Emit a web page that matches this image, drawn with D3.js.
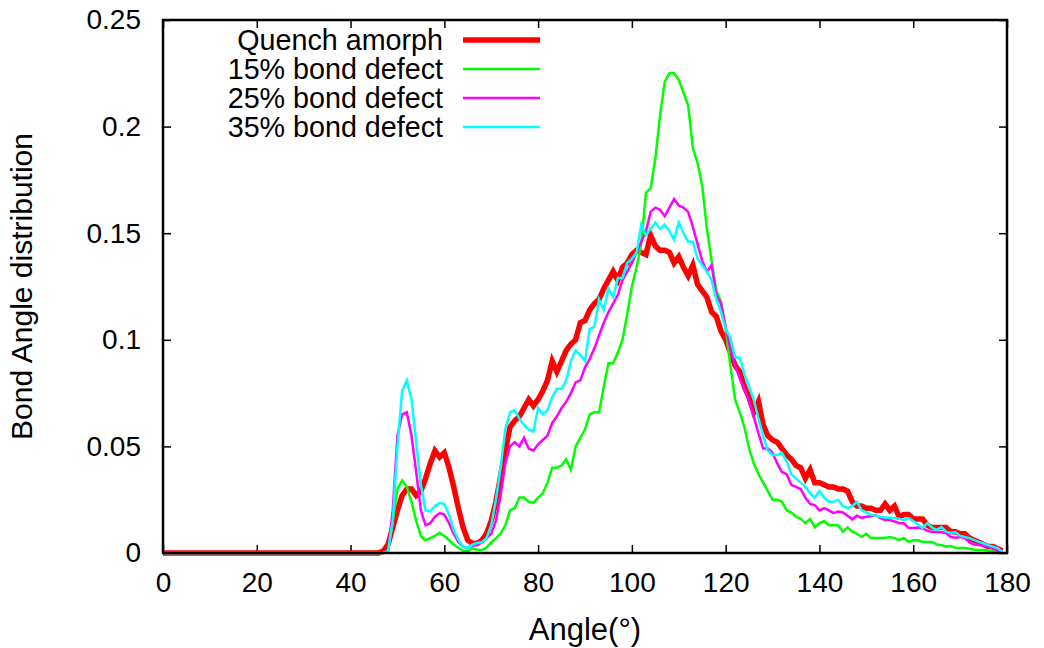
<!DOCTYPE html>
<html>
<head>
<meta charset="utf-8">
<script src="https://cdn.jsdelivr.net/npm/d3@7"></script>
<style>
  html, body { margin: 0; padding: 0; background: #fff; }
  svg { display: block; }
  text { font-family: "Liberation Sans", Arial, sans-serif; fill: #000; }
</style>
</head>
<body>
<svg id="chart" width="1044" height="648"></svg>
<script>
// ---- data (angle bins 0..179 degrees) ----
const angles = d3.range(0, 180);

const quenchAmorph = [
  0,0,0,0,0,0,0,0,0,0,
  0,0,0,0,0,0,0,0,0,0,
  0,0,0,0,0,0,0,0,0,0,
  0,0,0,0,0,0,0,0,0,0,
  0,0,0,0,0,0,0,0.001,0.004,0.012,
  0.020,0.027,0.030,0.030,0.027,0.029,0.035,0.042,0.048,0.045,
  0.047,0.040,0.031,0.021,0.012,0.006,0.0045,0.0045,0.006,0.009,
  0.015,0.024,0.036,0.048,0.059,0.062,0.064,0.068,0.072,0.069,
  0.072,0.076,0.081,0.090,0.085,0.090,0.095,0.098,0.100,0.108,
  0.109,0.114,0.117,0.119,0.124,0.128,0.132,0.128,0.134,0.136,
  0.140,0.142,0.141,0.140,0.149,0.144,0.142,0.142,0.141,0.136,
  0.139,0.134,0.130,0.135,0.126,0.123,0.120,0.113,0.111,0.104,
  0.100,0.094,0.088,0.085,0.078,0.073,0.066,0.071,0.060,0.055,
  0.053,0.052,0.049,0.046,0.044,0.041,0.040,0.035,0.039,0.033,
  0.033,0.032,0.031,0.031,0.030,0.030,0.029,0.024,0.022,0.022,
  0.021,0.021,0.020,0.020,0.023,0.020,0.022,0.017,0.018,0.018,
  0.016,0.016,0.016,0.013,0.012,0.012,0.012,0.012,0.010,0.010,
  0.009,0.009,0.007,0.006,0.005,0.004,0.003,0.003,0.002,0.001
];

const defect15 = [
  0,0,0,0,0,0,0,0,0,0,
  0,0,0,0,0,0,0,0,0,0,
  0,0,0,0,0,0,0,0,0,0,
  0,0,0,0,0,0,0,0,0,0,
  0,0,0,0,0,0,0,0,0.001,0.015,
  0.030,0.034,0.031,0.024,0.015,0.008,0.006,0.007,0.008,0.0095,
  0.008,0.006,0.004,0.0025,0.001,0.0008,0.0022,0.0015,0.0014,0.0025,
  0.005,0.007,0.009,0.013,0.020,0.021,0.026,0.026,0.024,0.0235,
  0.026,0.028,0.033,0.040,0.040,0.041,0.044,0.039,0.050,0.054,
  0.058,0.065,0.066,0.066,0.078,0.089,0.089,0.094,0.100,0.112,
  0.125,0.134,0.145,0.169,0.171,0.185,0.205,0.221,0.225,0.225,
  0.222,0.216,0.210,0.190,0.183,0.172,0.152,0.137,0.123,0.118,
  0.105,0.088,0.072,0.066,0.059,0.049,0.042,0.037,0.033,0.029,
  0.025,0.025,0.024,0.020,0.019,0.017,0.016,0.014,0.016,0.012,
  0.014,0.015,0.013,0.013,0.013,0.010,0.012,0.010,0.009,0.0075,
  0.009,0.007,0.007,0.007,0.007,0.0075,0.007,0.006,0.007,0.0052,
  0.006,0.006,0.0052,0.0052,0.0052,0.004,0.0037,0.003,0.0033,0.0025,
  0.0023,0.0023,0.002,0.0015,0.0014,0.0014,0.0012,0.0008,0.0005,0.0003
];

const defect25 = [
  0,0,0,0,0,0,0,0,0,0,
  0,0,0,0,0,0,0,0,0,0,
  0,0,0,0,0,0,0,0,0,0,
  0,0,0,0,0,0,0,0,0,0,
  0,0,0,0,0,0,0,0,0.001,0.020,
  0.055,0.065,0.066,0.055,0.038,0.020,0.013,0.014,0.017,0.0187,
  0.018,0.014,0.009,0.005,0.003,0.0025,0.0035,0.0037,0.005,0.007,
  0.009,0.015,0.027,0.042,0.050,0.052,0.050,0.054,0.049,0.048,
  0.051,0.053,0.055,0.061,0.064,0.068,0.071,0.075,0.080,0.081,
  0.087,0.091,0.096,0.102,0.108,0.113,0.117,0.121,0.128,0.132,
  0.136,0.141,0.146,0.151,0.160,0.162,0.161,0.158,0.162,0.166,
  0.163,0.162,0.160,0.153,0.145,0.137,0.132,0.135,0.121,0.117,
  0.106,0.096,0.088,0.082,0.077,0.071,0.064,0.056,0.049,0.049,
  0.047,0.042,0.038,0.037,0.032,0.031,0.030,0.026,0.023,0.0225,
  0.020,0.021,0.020,0.0187,0.0195,0.019,0.0175,0.0158,0.0175,0.0165,
  0.017,0.0172,0.0178,0.0164,0.0155,0.0155,0.0148,0.014,0.014,0.0118,
  0.0117,0.012,0.0115,0.0105,0.0098,0.0098,0.0097,0.0094,0.0075,0.0072,
  0.0075,0.007,0.005,0.004,0.0037,0.0033,0.003,0.002,0.0012,0.0005
];

const defect35 = [
  0,0,0,0,0,0,0,0,0,0,
  0,0,0,0,0,0,0,0,0,0,
  0,0,0,0,0,0,0,0,0,0,
  0,0,0,0,0,0,0,0,0,0,
  0,0,0,0,0,0,0,0,0.001,0.015,
  0.050,0.076,0.081,0.072,0.052,0.032,0.020,0.0195,0.022,0.0235,
  0.023,0.018,0.011,0.006,0.003,0.0023,0.004,0.0047,0.005,0.007,
  0.013,0.025,0.040,0.058,0.066,0.067,0.063,0.060,0.058,0.057,
  0.068,0.065,0.067,0.073,0.077,0.077,0.081,0.090,0.095,0.093,
  0.090,0.105,0.106,0.119,0.114,0.124,0.120,0.129,0.129,0.136,
  0.138,0.141,0.154,0.149,0.152,0.155,0.152,0.154,0.151,0.147,
  0.155,0.150,0.146,0.146,0.138,0.135,0.132,0.128,0.119,0.113,
  0.105,0.101,0.092,0.0915,0.084,0.078,0.072,0.063,0.055,0.048,
  0.046,0.046,0.047,0.043,0.037,0.035,0.033,0.031,0.028,0.026,
  0.029,0.026,0.024,0.024,0.025,0.022,0.021,0.022,0.024,0.020,
  0.019,0.018,0.0175,0.017,0.0167,0.0164,0.0164,0.016,0.0155,0.0164,
  0.015,0.0135,0.0117,0.014,0.012,0.0108,0.0122,0.010,0.0094,0.0098,
  0.008,0.0075,0.007,0.006,0.0052,0.0045,0.0037,0.003,0.0023,0.0005
];

const seriesNames = ["Quench amorph", "15% bond defect", "25% bond defect", "35% bond defect"];
const seriesValues = [quenchAmorph, defect15, defect25, defect35];
const seriesColors = ["#ff0000", "#00ff00", "#ff00ff", "#00ffff"];
const seriesWidths = [5.5, 2.5, 2.5, 2.5];

const xTicks = [0, 20, 40, 60, 80, 100, 120, 140, 160, 180];
const yTicks = [0, 0.05, 0.1, 0.15, 0.2, 0.25];
const yTickLabels = ["0", "0.05", "0.1", "0.15", "0.2", "0.25"];
const xTitle = "Angle(°)";
const yTitle = "Bond Angle distribution";

// ---- layout ----
const W = 1044, H = 648;
const margin = { left: 163, right: 37, top: 20, bottom: 95 };
const iw = W - margin.left - margin.right;
const ih = H - margin.top - margin.bottom;
const FS = 28;
const FS_LEGEND = 28.7;
const FS_TITLE = 30;

const svg = d3.select("#chart");
const g = svg.append("g").attr("transform", `translate(${margin.left},${margin.top})`);

const x = d3.scaleLinear().domain([0, 180]).range([0, iw]);
const y = d3.scaleLinear().domain([0, 0.25]).range([ih, 0]);

function styleAxis(sel, showLabels) {
  sel.select(".domain").remove();
  sel.selectAll(".tick line").attr("stroke", "#000").attr("stroke-width", 1.5);
  sel.selectAll(".tick text")
    .style("font-family", '"Liberation Sans", Arial, sans-serif')
    .style("font-size", FS + "px")
    .attr("fill", "#000");
  if (!showLabels) sel.selectAll(".tick text").remove();
}

// bottom
g.append("g").attr("transform", `translate(0,${ih})`)
  .call(d3.axisBottom(x).tickValues(xTicks).tickFormat(d3.format("d"))
    .tickSizeInner(-8).tickSizeOuter(0).tickPadding(19))
  .call(s => styleAxis(s, true));
// top
g.append("g")
  .call(d3.axisTop(x).tickValues(xTicks).tickSizeInner(-8).tickSizeOuter(0))
  .call(s => styleAxis(s, false));
// left
g.append("g")
  .call(d3.axisLeft(y).tickValues(yTicks).tickFormat((d, i) => yTickLabels[i])
    .tickSizeInner(-8).tickSizeOuter(0).tickPadding(22))
  .call(s => styleAxis(s, true));
// right
g.append("g").attr("transform", `translate(${iw},0)`)
  .call(d3.axisRight(y).tickValues(yTicks).tickSizeInner(-8).tickSizeOuter(0))
  .call(s => styleAxis(s, false));

// series lines
const line = d3.line().x((d, i) => x(angles[i])).y(d => y(d));
seriesValues.forEach((vals, k) => {
  g.append("path")
    .datum(vals)
    .attr("fill", "none")
    .attr("stroke", seriesColors[k])
    .attr("stroke-width", seriesWidths[k])
    .attr("stroke-linejoin", "miter")
    .attr("d", line);
});

// frame
g.append("rect")
  .attr("x", 0).attr("y", 0).attr("width", iw).attr("height", ih)
  .attr("fill", "none").attr("stroke", "#000").attr("stroke-width", 2.5);

// legend
const legendRows = [40, 69, 98, 127];
seriesNames.forEach((name, k) => {
  svg.append("text")
    .attr("x", 443).attr("y", legendRows[k]).attr("dy", "0.35em")
    .attr("text-anchor", "end")
    .style("font-size", FS_LEGEND + "px")
    .text(name);
  svg.append("line")
    .attr("x1", 463).attr("x2", 540)
    .attr("y1", legendRows[k]).attr("y2", legendRows[k])
    .attr("stroke", seriesColors[k])
    .attr("stroke-width", seriesWidths[k]);
});

// axis titles
svg.append("text")
  .attr("x", margin.left + iw / 2).attr("y", 640)
  .attr("text-anchor", "middle")
  .style("font-size", (FS_TITLE + 1) + "px")
  .text(xTitle);
svg.append("text")
  .attr("transform", `translate(32,${margin.top + ih / 2}) rotate(-90)`)
  .attr("text-anchor", "middle")
  .style("font-size", FS_TITLE + "px")
  .text(yTitle);
</script>
</body>
</html>
